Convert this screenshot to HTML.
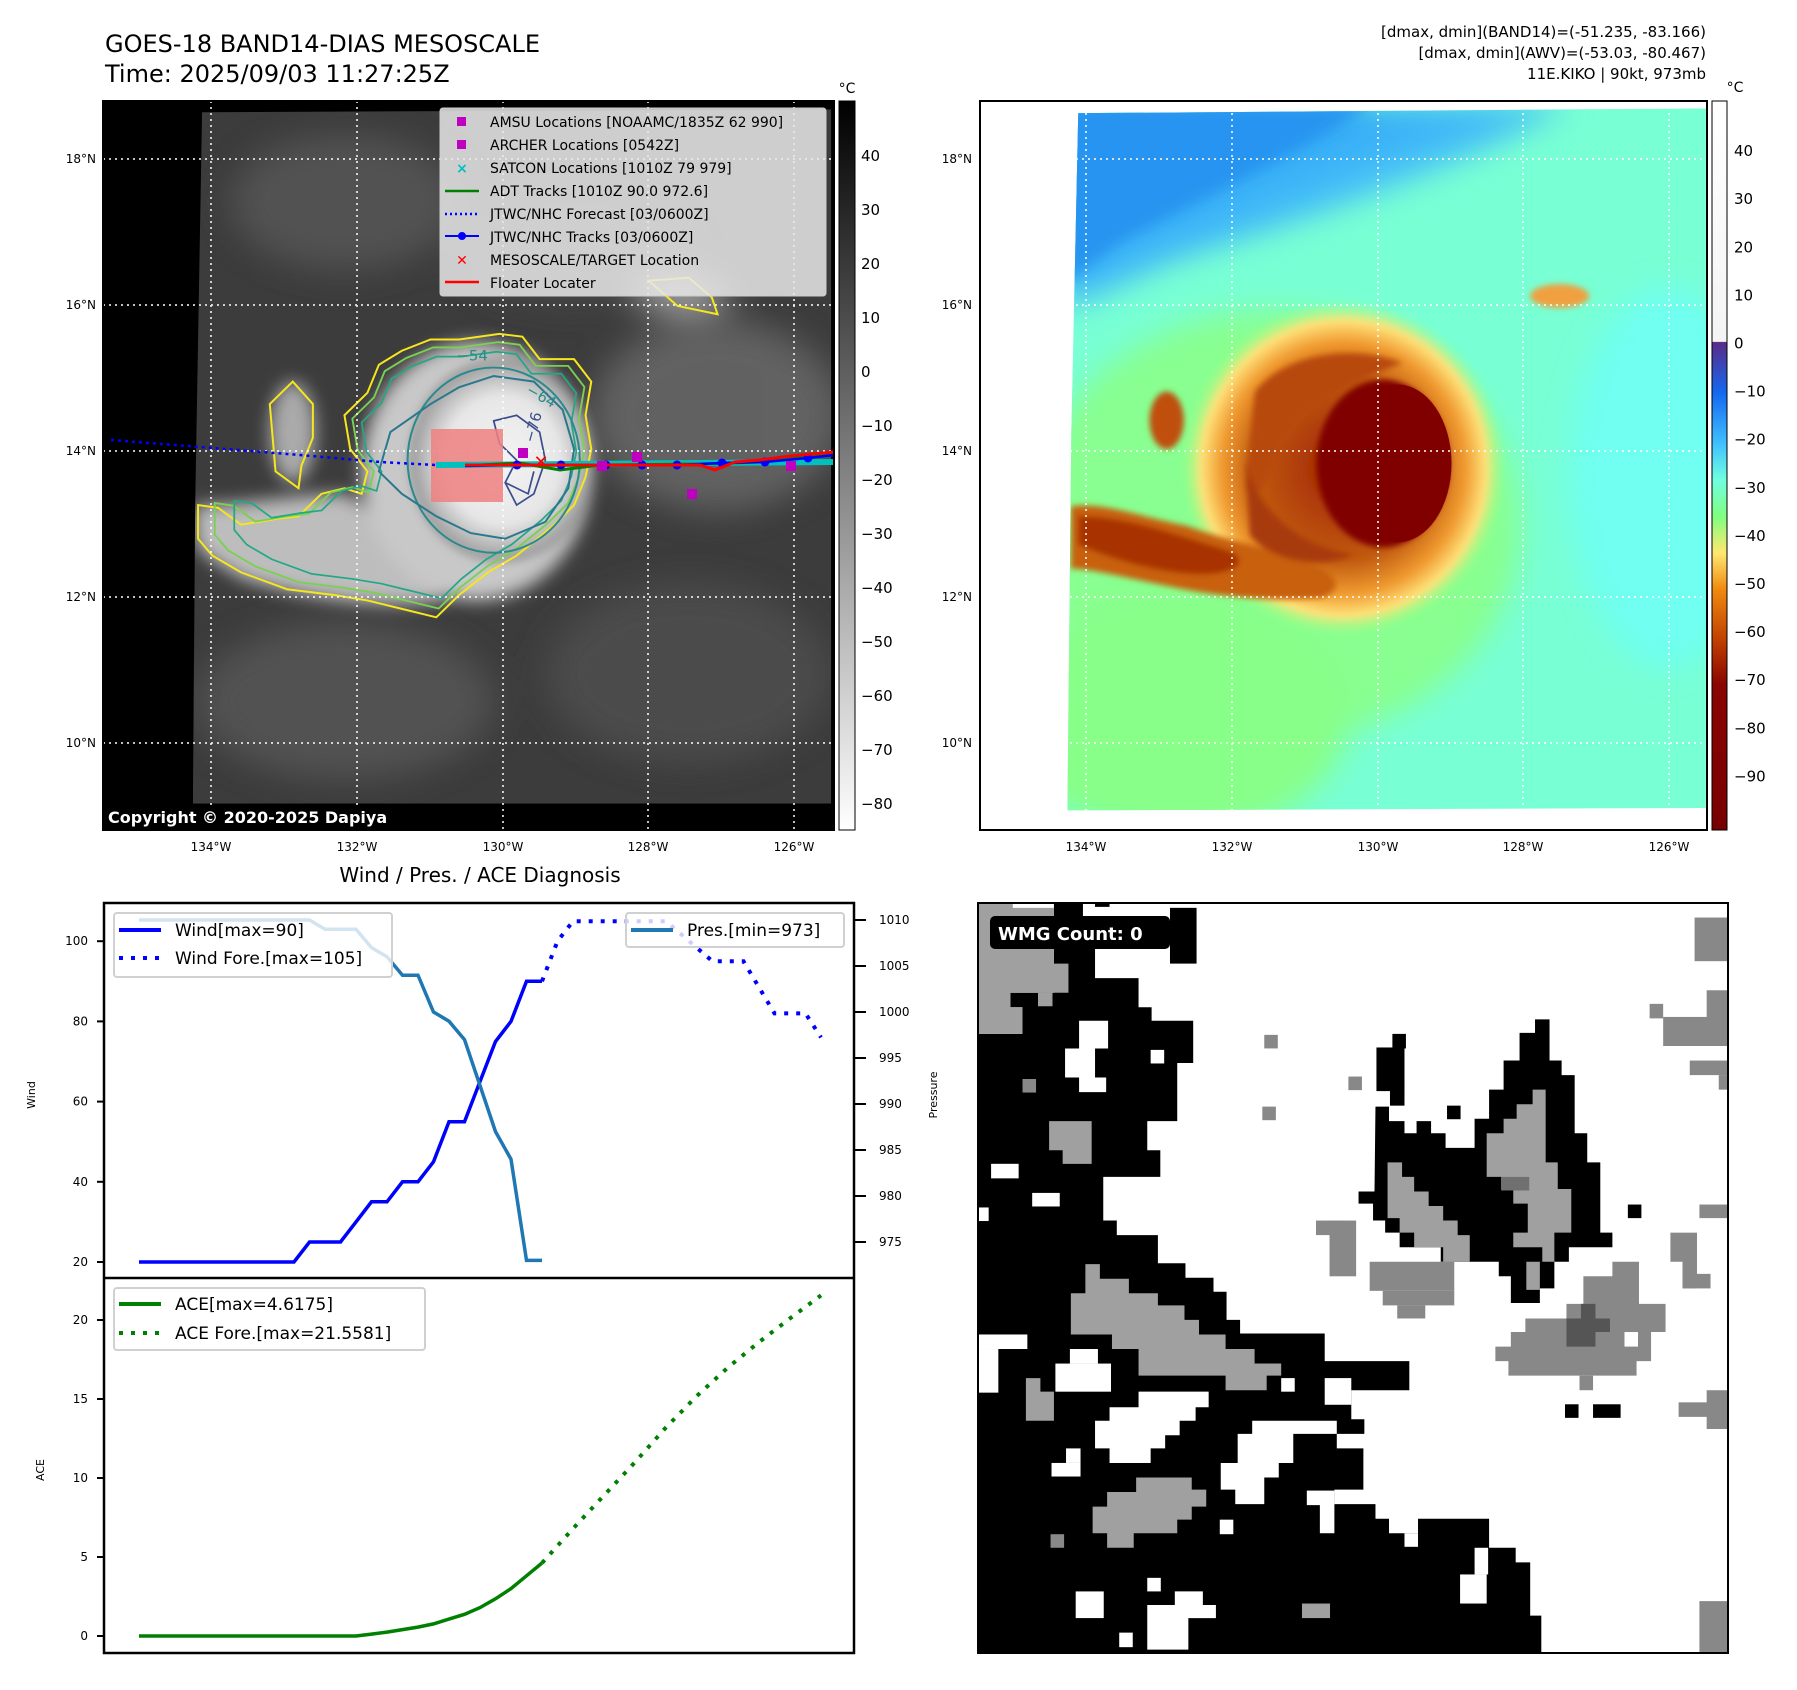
<!DOCTYPE html>
<html><head><meta charset="utf-8"><title>GOES-18 Band14 DIAS Mesoscale</title>
<style>
html,body{margin:0;padding:0;background:#fff;}
svg{display:block;font-family:"DejaVu Sans","Liberation Sans",sans-serif;}
</style></head>
<body>
<svg id="fig" width="1797" height="1690" viewBox="0 0 1797 1690" xmlns="http://www.w3.org/2000/svg">
<defs>
  <filter id="blur6" x="-20%" y="-20%" width="140%" height="140%"><feGaussianBlur stdDeviation="6"/></filter>
  <filter id="blur15" x="-30%" y="-30%" width="160%" height="160%"><feGaussianBlur stdDeviation="15"/></filter>
  <filter id="blur30" x="-50%" y="-50%" width="200%" height="200%"><feGaussianBlur stdDeviation="30"/></filter>
  <linearGradient id="cb1" x1="0" y1="0" x2="0" y2="1">
    <stop offset="0" stop-color="#000"/><stop offset="1" stop-color="#fff"/>
  </linearGradient>
  <linearGradient id="cb2" x1="0" y1="0" x2="0" y2="1">
    <stop offset="0" stop-color="#ffffff"/>
    <stop offset="0.330" stop-color="#f4f4f4"/>
    <stop offset="0.331" stop-color="#5a2a88"/>
    <stop offset="0.40" stop-color="#1468f0"/>
    <stop offset="0.47" stop-color="#40c0ff"/>
    <stop offset="0.52" stop-color="#70ffe0"/>
    <stop offset="0.57" stop-color="#80ff80"/>
    <stop offset="0.62" stop-color="#ffe870"/>
    <stop offset="0.67" stop-color="#f08a10"/>
    <stop offset="0.74" stop-color="#c04000"/>
    <stop offset="0.80" stop-color="#8a0500"/>
    <stop offset="1" stop-color="#780000"/>
  </linearGradient>
  <radialGradient id="stormGray" cx="0.5" cy="0.5" r="0.5">
    <stop offset="0" stop-color="#f4f4f4"/><stop offset="0.6" stop-color="#e6e6e6"/><stop offset="0.85" stop-color="#b0b0b0"/><stop offset="1" stop-color="#505050" stop-opacity="0"/>
  </radialGradient>
  <radialGradient id="stormCol" cx="0.5" cy="0.5" r="0.5">
    <stop offset="0" stop-color="#a02000"/><stop offset="0.55" stop-color="#c05a10"/><stop offset="0.75" stop-color="#f09a30"/><stop offset="0.88" stop-color="#ffe27a"/><stop offset="1" stop-color="#a0ff80" stop-opacity="0"/>
  </radialGradient>
  <linearGradient id="skyBlue" x1="0" y1="0" x2="1" y2="1">
    <stop offset="0" stop-color="#1a8cf0"/><stop offset="0.45" stop-color="#40b8f8"/><stop offset="0.7" stop-color="#70ffe8"/><stop offset="1" stop-color="#70ffd0" stop-opacity="0"/>
  </linearGradient>
</defs>

<!-- ===== Titles ===== -->
<text x="105" y="52" font-size="24" fill="#000">GOES-18 BAND14-DIAS MESOSCALE</text>
<text x="105" y="82" font-size="24" fill="#000">Time: 2025/09/03 11:27:25Z</text>
<g font-size="15" text-anchor="end" fill="#000">
  <text x="1706" y="37">[dmax, dmin](BAND14)=(-51.235, -83.166)</text>
  <text x="1706" y="58">[dmax, dmin](AWV)=(-53.03, -80.467)</text>
  <text x="1706" y="79">11E.KIKO | 90kt, 973mb</text>
</g>

<!-- ===== Map 1 (grayscale IR) ===== -->
<g>
  <rect x="103" y="101" width="731" height="729" fill="#000"/>
  <g transform="scale(0.57405,0.56117)">
    <clipPath id="m1clip"><polygon points="352,200 1448,195 1448,1432 336,1432 340,900"/></clipPath>
    <g clip-path="url(#m1clip)">
      <rect x="330" y="190" width="1130" height="1250" fill="#3c3c3c"/>
      <g filter="url(#blur30)" opacity="0.9">
        <ellipse cx="600" cy="360" rx="200" ry="120" fill="#555"/>
        <ellipse cx="1250" cy="740" rx="220" ry="170" fill="#666"/>
        <ellipse cx="1200" cy="1200" rx="250" ry="160" fill="#4e4e4e"/>
        <ellipse cx="600" cy="1250" rx="260" ry="140" fill="#555"/>
        <ellipse cx="1000" cy="450" rx="200" ry="90" fill="#4a4a4a"/>
        <ellipse cx="1190" cy="525" rx="80" ry="30" fill="#bbb"/>
      </g>
      <g filter="url(#blur15)">
        <path d="M340,900 C420,900 520,880 600,880 C650,900 700,1000 800,1060 C700,1100 500,1060 420,1030 C370,1000 340,980 340,960 Z" fill="#bdbdbd"/>
        <ellipse cx="510" cy="770" rx="40" ry="90" fill="#aaa"/>
        <ellipse cx="830" cy="840" rx="200" ry="230" fill="#c8c8c8"/>
      </g>
      <ellipse cx="875" cy="820" rx="170" ry="190" fill="url(#stormGray)" filter="url(#blur6)"/>
    </g>
    <g fill="none" stroke-width="3.5">
      <path d="M345,900 L380,905 L420,935 L480,925 L520,920 L560,880 L600,870 L630,880 L640,840 L610,800 L600,740 L640,700 L660,650 L700,625 L750,605 L800,605 L870,595 L910,600 L940,640 L1000,640 L1030,680 L1020,740 L1030,800 L1020,850 L1000,900 L960,940 L900,990 L850,1020 L800,1060 L760,1100 L700,1085 L640,1070 L580,1060 L500,1050 L420,1020 L370,990 L345,960 Z" stroke="#f5e61e"/>
      <path d="M470,720 L510,680 L545,720 L545,780 L525,830 L520,870 L480,840 L475,780 Z" stroke="#f5e61e"/>
      <path d="M1130,500 L1200,495 L1240,530 L1250,560 L1180,545 Z" stroke="#f5e61e"/>
      <g transform="translate(830,840) scale(0.94) translate(-830,-840)"><path d="M345,900 L380,905 L420,935 L480,925 L520,920 L560,880 L600,870 L630,880 L640,840 L610,800 L600,740 L640,700 L660,650 L700,625 L750,605 L800,605 L870,595 L910,600 L940,640 L1000,640 L1030,680 L1020,740 L1030,800 L1020,850 L1000,900 L960,940 L900,990 L850,1020 L800,1060 L760,1100 L700,1085 L640,1070 L580,1060 L500,1050 L420,1020 L370,990 L345,960 Z" stroke="#7ad151"/></g>
      <g transform="translate(830,840) scale(0.87) translate(-830,-840)"><path d="M345,900 L380,905 L420,935 L480,925 L520,920 L560,880 L600,870 L630,880 L640,840 L610,800 L600,740 L640,700 L660,650 L700,625 L750,605 L800,605 L870,595 L910,600 L940,640 L1000,640 L1030,680 L1020,740 L1030,800 L1020,850 L1000,900 L960,940 L900,990 L850,1020 L800,1060 L760,1100 L700,1085 L640,1070 L580,1060 L500,1050 L420,1020 L370,990 L345,960 Z" stroke="#22a884"/></g>
      <ellipse cx="860" cy="820" rx="150" ry="165" stroke="#2a8a8c"/>
      <path d="M680,770 L750,720 L800,690 L860,670 L930,680 L980,730 L1000,800 L990,870 L950,930 L880,960 L820,950 L760,920 L700,880 L660,840 Z" stroke="#2a788e"/>
      <path d="M860,750 L900,740 L940,770 L950,820 L930,880 L900,900 L880,860 L900,820 L870,790 Z" stroke="#3b4d8c" stroke-width="3"/>
      <path d="M880,860 L920,880 L930,840" stroke="#3b4d8c" stroke-width="3"/>
    </g>
    <g font-size="26" fill="#2a8a8c">
      <text x="795" y="642">−54</text>
      <text x="915" y="700" transform="rotate(30 915 700)">−64</text>
      <text x="930" y="790" transform="rotate(-75 930 790)" fill="#3b4d8c">−76</text>
    </g>
  </g>
  <g stroke="#fff" stroke-width="1.5" stroke-dasharray="2,4">
    <line x1="211" y1="101" x2="211" y2="830"/><line x1="357" y1="101" x2="357" y2="830"/>
    <line x1="503" y1="101" x2="503" y2="830"/><line x1="648" y1="101" x2="648" y2="830"/>
    <line x1="794" y1="101" x2="794" y2="830"/>
    <line x1="103" y1="159" x2="834" y2="159"/><line x1="103" y1="305" x2="834" y2="305"/>
    <line x1="103" y1="451" x2="834" y2="451"/><line x1="103" y1="597" x2="834" y2="597"/>
    <line x1="103" y1="743" x2="834" y2="743"/>
  </g>
  <rect x="431" y="429" width="72" height="73" fill="#f08080" opacity="0.85"/>
  <polyline points="111,440 200,447 300,455 380,462 436,465" fill="none" stroke="#0000ff" stroke-width="2.5" stroke-dasharray="3,4"/>
  <polyline points="436,465 834,462" fill="none" stroke="#00c0c0" stroke-width="6"/>
  <polyline points="480,465 520,463 560,470 600,465 700,464 760,462 790,458 834,455" fill="none" stroke="#008000" stroke-width="3"/>
  <polyline points="465,466 517,465 561,465 606,465 642,465 677,465 722,463 765,462 808,458 834,455" fill="none" stroke="#0000ff" stroke-width="2.5"/>
  <g fill="#0000ff">
    <circle cx="517" cy="465" r="4.5"/><circle cx="561" cy="465" r="4.5"/><circle cx="606" cy="465" r="4.5"/><circle cx="642" cy="465" r="4.5"/><circle cx="677" cy="465" r="4.5"/><circle cx="722" cy="463" r="4.5"/><circle cx="765" cy="462" r="4.5"/><circle cx="808" cy="458" r="4.5"/>
  </g>
  <polyline points="465,465 700,465 715,470 735,462 760,460 790,456 834,452" fill="none" stroke="#ff0000" stroke-width="3"/>
  <text x="541" y="468" font-size="18" font-weight="bold" fill="#ff0000" text-anchor="middle">✕</text>
  <g fill="#c000c0">
    <rect x="518" y="448" width="10" height="10"/><rect x="632" y="452" width="10" height="10"/><rect x="687" y="489" width="10" height="10"/><rect x="786" y="461" width="10" height="10"/><rect x="597" y="461" width="10" height="10"/>
  </g>
  <g>
    <rect x="440" y="108" width="386" height="188" rx="3" fill="#e8e8e8" fill-opacity="0.85" stroke="#ccc"/>
    <g font-size="14" fill="#000">
      <rect x="457" y="117" width="9" height="9" fill="#c000c0"/><text x="490" y="127">AMSU Locations [NOAAMC/1835Z 62 990]</text>
      <rect x="457" y="140" width="9" height="9" fill="#c000c0"/><text x="490" y="150">ARCHER Locations [0542Z]</text>
      <text x="462" y="173" text-anchor="middle" fill="#00c0c0" font-weight="bold">×</text><text x="490" y="173">SATCON Locations [1010Z 79 979]</text>
      <line x1="445" y1="191" x2="479" y2="191" stroke="#008000" stroke-width="2.5"/><text x="490" y="196">ADT Tracks [1010Z 90.0 972.6]</text>
      <line x1="445" y1="214" x2="479" y2="214" stroke="#0000ff" stroke-width="2.5" stroke-dasharray="2,3"/><text x="490" y="219">JTWC/NHC Forecast [03/0600Z]</text>
      <line x1="445" y1="236" x2="479" y2="236" stroke="#0000ff" stroke-width="2"/><circle cx="462" cy="236" r="4" fill="#0000ff"/><text x="490" y="242">JTWC/NHC Tracks [03/0600Z]</text>
      <text x="462" y="265" text-anchor="middle" fill="#ff0000" font-weight="bold">✕</text><text x="490" y="265">MESOSCALE/TARGET Location</text>
      <line x1="445" y1="282" x2="479" y2="282" stroke="#ff0000" stroke-width="2.5"/><text x="490" y="288">Floater Locater</text>
    </g>
  </g>
  <rect x="103" y="805" width="310" height="25" rx="3" fill="#000"/>
  <text x="108" y="823" font-size="16" font-weight="bold" fill="#fff">Copyright © 2020-2025 Dapiya</text>
  <rect x="103" y="101" width="731" height="729" fill="none" stroke="#000" stroke-width="2"/>
</g>
<g font-size="12" fill="#000" text-anchor="end">
  <text x="96" y="163">18°N</text><text x="96" y="309">16°N</text><text x="96" y="455">14°N</text><text x="96" y="601">12°N</text><text x="96" y="747">10°N</text>
</g>
<g font-size="12" fill="#000" text-anchor="middle">
  <text x="211" y="851">134°W</text><text x="357" y="851">132°W</text><text x="503" y="851">130°W</text><text x="648" y="851">128°W</text><text x="794" y="851">126°W</text>
</g>
<g>
  <rect x="839" y="101" width="16" height="729" fill="url(#cb1)" stroke="#000" stroke-width="1"/>
  <text x="847" y="93" font-size="14" text-anchor="middle">°C</text>
  <g id="cb1ticks" font-size="15" fill="#000"></g>
</g>

<!-- ===== Map 2 (colour AWV) ===== -->
<g>
  <rect x="980" y="101" width="727" height="729" fill="#fff"/>
  <g transform="translate(980,95) scale(0.49116,0.4785)">
    <clipPath id="m2clip"><polygon points="200,38 1478,28 1478,1490 178,1495 186,700"/></clipPath>
    <g clip-path="url(#m2clip)">
      <rect x="170" y="20" width="1320" height="1490" fill="#78ffd4"/>
      <g filter="url(#blur30)">
        <ellipse cx="600" cy="900" rx="500" ry="450" fill="#88ff90"/>
        <ellipse cx="400" cy="1300" rx="350" ry="250" fill="#88ff88"/>
        <ellipse cx="1400" cy="800" rx="200" ry="400" fill="#70fff0"/>
      </g>
      <path d="M170,20 L1200,20 C1000,150 700,250 450,330 C350,360 260,420 170,450 Z" fill="url(#skyBlue)" filter="url(#blur30)"/>
      <path d="M170,20 L800,20 C650,120 450,220 300,300 C250,330 200,380 170,400 Z" fill="#2894f0" filter="url(#blur15)"/>
      <ellipse cx="740" cy="780" rx="330" ry="350" fill="url(#stormCol)" filter="url(#blur6)"/>
      <g filter="url(#blur6)">
        <path d="M185,860 C250,850 320,880 420,900 C500,930 560,940 620,960 C700,980 760,1020 700,1050 C600,1060 500,1050 400,1030 C300,1010 230,990 185,990 Z" fill="#c86010"/>
        <path d="M200,880 C300,880 400,920 500,950 C560,970 520,1010 420,1000 C320,990 250,960 200,940 Z" fill="#a83000"/>
        <ellipse cx="380" cy="680" rx="35" ry="60" fill="#c05010"/>
        <ellipse cx="1180" cy="420" rx="60" ry="25" fill="#f0a040"/>
        <path d="M560,620 C620,540 760,520 860,560 C760,600 660,640 600,760 C580,820 560,860 540,820 Z" fill="#b84a10"/>
        <path d="M540,760 C560,860 640,940 760,960 C700,990 600,980 550,920 Z" fill="#a83a08"/>
      </g>
      <ellipse cx="820" cy="770" rx="135" ry="175" fill="#800000" filter="url(#blur6)"/>
      <ellipse cx="850" cy="770" rx="110" ry="165" fill="#800000"/>
    </g>
  </g>
  <g stroke="#fff" stroke-width="1.5" stroke-dasharray="2,4">
    <line x1="1086" y1="101" x2="1086" y2="830"/><line x1="1232" y1="101" x2="1232" y2="830"/>
    <line x1="1378" y1="101" x2="1378" y2="830"/><line x1="1523" y1="101" x2="1523" y2="830"/>
    <line x1="1669" y1="101" x2="1669" y2="830"/>
    <line x1="980" y1="159" x2="1707" y2="159"/><line x1="980" y1="305" x2="1707" y2="305"/>
    <line x1="980" y1="451" x2="1707" y2="451"/><line x1="980" y1="597" x2="1707" y2="597"/>
    <line x1="980" y1="743" x2="1707" y2="743"/>
  </g>
  <rect x="980" y="101" width="727" height="729" fill="none" stroke="#000" stroke-width="2"/>
</g>
<g font-size="12" fill="#000" text-anchor="end">
  <text x="972" y="163">18°N</text><text x="972" y="309">16°N</text><text x="972" y="455">14°N</text><text x="972" y="601">12°N</text><text x="972" y="747">10°N</text>
</g>
<g font-size="12" fill="#000" text-anchor="middle">
  <text x="1086" y="851">134°W</text><text x="1232" y="851">132°W</text><text x="1378" y="851">130°W</text><text x="1523" y="851">128°W</text><text x="1669" y="851">126°W</text>
</g>
<g>
  <rect x="1712" y="101" width="15" height="729" fill="url(#cb2)" stroke="#000" stroke-width="1"/>
  <text x="1735" y="92" font-size="14" text-anchor="middle">°C</text>
  <g id="cb2ticks" font-size="15" fill="#000"></g>
</g>

<!-- ===== Wind / Pres / ACE chart ===== -->
<text x="480" y="882" font-size="20" text-anchor="middle">Wind / Pres. / ACE Diagnosis</text>
<g id="chart">
  <rect x="104" y="903" width="750" height="750" fill="#fff"/>
</g>
<text transform="translate(35,1095) rotate(-90)" font-size="11" text-anchor="middle">Wind</text>
<text transform="translate(937,1095) rotate(-90)" font-size="11" text-anchor="middle">Pressure</text>
<text transform="translate(44,1470) rotate(-90)" font-size="11" text-anchor="middle">ACE</text>

<!-- ===== WMG panel ===== -->
<g>
  <rect x="978" y="903" width="750" height="750" fill="#fff"/>
  <g transform="translate(979,903) scale(0.4835,0.4848)">
    <g fill="#000">
      <polygon points="0,270 90,270 90,215 65,215 65,185 155,185 155,95 240,95 240,155 330,155 330,215 357,215 357,243 443,243 443,330 410,330 410,450 348,450 348,510 375,510 375,565 257,565 257,655 285,655 285,685 370,685 370,743 427,743 427,773 485,773 485,802 512,802 512,860 540,860 540,888 715,888 715,945 890,945 890,1005 770,1005 770,1065 797,1065 797,1095 740,1095 740,1125 795,1125 795,1210 735,1210 735,1240 820,1240 820,1270 848,1270 848,1300 908,1300 908,1270 1055,1270 1055,1330 1110,1330 1110,1360 1140,1360 1140,1470 1163,1470 1163,1547 0,1547"/>
      <rect x="155" y="0" width="60" height="95"/><rect x="395" y="10" width="55" height="115"/><rect x="240" y="0" width="30" height="8"/>
      <polygon points="820,420 848,420 848,450 880,450 880,475 905,475 905,450 935,450 935,475 965,475 965,505 1025,505 1025,445 1055,445 1055,385 1085,385 1085,325 1118,325 1118,268 1150,268 1150,240 1180,240 1180,325 1205,325 1205,355 1232,355 1232,475 1258,475 1258,535 1285,535 1285,680 1310,680 1310,710 1220,710 1220,740 1190,740 1190,795 1160,795 1160,825 1100,825 1100,770 1075,770 1075,740 955,740 955,710 870,710 870,680 840,680 840,655 815,655 815,620 785,620 785,595 818,595"/>
      <rect x="822" y="298" width="58" height="90"/><rect x="855" y="270" width="28" height="30"/><rect x="850" y="360" width="30" height="58"/>
      <rect x="968" y="418" width="28" height="28"/><rect x="1342" y="622" width="28" height="28"/><rect x="1212" y="1034" width="28" height="28"/><rect x="1270" y="1034" width="57" height="28"/>
    </g>
    <g fill="#fff">
      <polygon points="178,300 207,300 207,243 267,243 267,300 240,300 240,360 263,360 263,390 207,390 207,360 178,360"/>
      <rect x="355" y="303" width="28" height="28"/><rect x="25" y="538" width="57" height="30"/><rect x="110" y="598" width="57" height="28"/><rect x="0" y="628" width="20" height="28"/>
      <rect x="0" y="890" width="100" height="30"/><rect x="0" y="920" width="40" height="90"/><rect x="158" y="950" width="115" height="58"/><rect x="188" y="920" width="58" height="30"/>
      <polygon points="240,1068 270,1068 270,1040 330,1040 330,1008 475,1008 475,1040 448,1040 448,1068 415,1068 415,1098 385,1098 385,1125 355,1125 355,1155 270,1155 270,1125 240,1125"/>
      <polygon points="565,1068 740,1068 740,1095 650,1095 650,1155 620,1155 620,1185 590,1185 590,1240 530,1240 530,1210 500,1210 500,1155 535,1155 535,1095 565,1095"/>
      <rect x="678" y="1212" width="57" height="30"/><rect x="705" y="1240" width="30" height="60"/>
      <rect x="715" y="980" width="55" height="55"/><rect x="625" y="980" width="28" height="28"/><rect x="150" y="1155" width="60" height="28"/><rect x="180" y="1125" width="30" height="30"/>
      <rect x="200" y="1420" width="58" height="55"/><polygon points="348,1448 405,1448 405,1420 463,1420 463,1448 490,1448 490,1475 433,1475 433,1540 348,1540"/>
      <rect x="290" y="1505" width="28" height="30"/><rect x="498" y="1272" width="28" height="30"/><rect x="880" y="1300" width="28" height="28"/><rect x="995" y="1385" width="55" height="60"/><rect x="1025" y="1330" width="28" height="55"/><rect x="348" y="1392" width="28" height="28"/>
    </g>
    <g fill="#a0a0a0">
      <polygon points="0,0 70,0 70,10 155,10 155,125 185,125 185,185 65,185 65,215 90,215 90,270 0,270"/>
      <rect x="122" y="185" width="30" height="28"/>
      <polygon points="145,450 233,450 233,538 173,538 173,510 145,510"/>
      <polygon points="190,805 220,805 220,745 250,745 250,775 310,775 310,805 370,805 370,830 425,830 425,860 455,860 455,890 510,890 510,920 570,920 570,950 625,950 625,975 595,975 595,1005 510,1005 510,975 330,975 330,920 275,920 275,890 190,890"/>
      <polygon points="97,980 127,980 127,1008 155,1008 155,1068 97,1068"/>
      <polygon points="325,1185 440,1185 440,1210 470,1210 470,1245 440,1245 440,1272 410,1272 410,1300 320,1300 320,1330 265,1330 265,1300 235,1300 235,1245 265,1245 265,1215 325,1215"/>
      <rect x="668" y="1445" width="58" height="30"/>
      <polygon points="845,535 875,535 875,565 900,565 900,595 930,595 930,625 960,625 960,655 990,655 990,685 1015,685 1015,740 960,740 960,710 900,710 900,680 870,680 870,650 845,650"/>
      <polygon points="1050,475 1085,475 1085,445 1112,445 1112,415 1145,415 1145,385 1172,385 1172,535 1197,535 1197,590 1225,590 1225,680 1190,680 1190,740 1165,740 1165,710 1105,710 1105,680 1135,680 1135,620 1105,620 1105,590 1080,590 1080,565 1050,565"/>
      <rect x="1132" y="740" width="28" height="58"/>
    </g>
    <g fill="#888">
      <rect x="1480" y="30" width="69" height="90"/><rect x="1415" y="235" width="134" height="60"/><rect x="1505" y="180" width="44" height="60"/><rect x="1470" y="325" width="79" height="30"/><rect x="1387" y="208" width="28" height="30"/><rect x="1530" y="355" width="19" height="30"/>
      <rect x="808" y="740" width="175" height="60"/><rect x="835" y="800" width="148" height="30"/><rect x="865" y="830" width="58" height="27"/>
      <polygon points="1100,885 1130,885 1130,857 1215,857 1215,827 1250,827 1250,770 1310,770 1310,740 1365,740 1365,827 1420,827 1420,885 1390,885 1390,945 1360,945 1360,975 1095,975 1095,945 1068,945 1068,915 1100,915"/>
      <rect x="725" y="655" width="55" height="115"/><rect x="697" y="655" width="55" height="30"/>
      <rect x="1430" y="680" width="55" height="60"/><rect x="1455" y="735" width="30" height="60"/><rect x="1455" y="765" width="58" height="30"/>
      <rect x="1447" y="1030" width="102" height="30"/><rect x="1505" y="1005" width="44" height="80"/>
      <rect x="1490" y="1440" width="59" height="107"/>
      <rect x="590" y="272" width="28" height="28"/><rect x="764" y="358" width="28" height="28"/><rect x="586" y="420" width="28" height="28"/><rect x="90" y="363" width="28" height="28"/><rect x="148" y="1302" width="28" height="28"/><rect x="1490" y="622" width="59" height="28"/><rect x="1242" y="975" width="28" height="30"/>
      <rect x="1080" y="565" width="58" height="28" fill="#707070"/>
    </g>
    <g fill="#fff"><rect x="1335" y="885" width="28" height="30"/></g>
    <polygon points="1245,827 1275,827 1275,857 1305,857 1305,885 1275,885 1275,915 1215,915 1215,857 1245,857" fill="#555"/>
  </g>
  <rect x="990" y="916" width="180" height="33" rx="5" fill="#000"/>
  <text x="998" y="940" font-size="18" font-weight="bold" fill="#fff">WMG Count: 0</text>
  <rect x="978" y="903" width="750" height="750" fill="none" stroke="#000" stroke-width="2"/>
</g>

<script>
// ---- Chart data (6-hourly index) ----
const obsIdx   = [0,1,2,3,4,5,6,7,8,9,10,11,12,13,14,15,16,17,18,19,20,21,22,23,24,25,26];
const windObs  = [20,20,20,20,20,20,20,20,20,20,20,25,25,25,30,35,35,40,40,45,55,55,65,75,80,90,90];
const presObs  = [1010,1010,1010,1010,1010,1010,1010,1010,1010,1010,1010,1010,1009,1009,1009,1007,1006,1004,1004,1000,999,997,992,987,984,973,973];
const aceObs   = [0,0,0,0,0,0,0,0,0,0,0,0,0,0,0,0.1225,0.245,0.405,0.565,0.7675,1.07,1.3725,1.795,2.3575,2.9975,3.8075,4.6175];
const fcIdx    = [26,27,28,30,32,34,37,39,41,43,44];
const windFc   = [90,100,105,105,105,105,95,95,82,82,76];
const aceFcIdx = [26,28,30,32,34,36,38,40,42,44];
const aceFc    = [4.6175,6.8,8.9,11.0,13.2,15.2,17.0,18.6,20.1,21.5581];
const windTicks = [20,40,60,80,100];
const presTicks = [975,980,985,990,995,1000,1005,1010];
const aceTicks  = [0,5,10,15,20];
const cb1Ticks = [40,30,20,10,0,-10,-20,-30,-40,-50,-60,-70,-80];
const cb2Ticks = [40,30,20,10,0,-10,-20,-30,-40,-50,-60,-70,-80,-90];

const NS = 'http://www.w3.org/2000/svg';
function xI(i){ return 139 + 15.5*i; }
function yWind(v){ return 1262 - (v-20)*4.01; }
function yPres(p){ return 1242 - (p-975)*9.2; }
function yAce(a){ return 1636 - a*15.8; }
function yCb1(v){ return 156 + (40-v)*5.4; }
function yCb2(v){ return 343.5 - v*4.81; }
function mk(tag, attrs, parent){
  const e = document.createElementNS(NS, tag);
  for (const k in attrs) e.setAttribute(k, attrs[k]);
  parent.appendChild(e); return e;
}
function pts(idx, vals, fy){ return idx.map((i,k)=>xI(i).toFixed(1)+','+fy(vals[k]).toFixed(1)).join(' '); }
const fmt = v => (v<0 ? '\u2212'+Math.abs(v) : ''+v);

const cb1 = document.getElementById('cb1ticks');
cb1Ticks.forEach(v=>{
  const t = mk('text',{x:861,y:yCb1(v)+5},cb1); t.textContent = fmt(v);
  
  
});
const cb2 = document.getElementById('cb2ticks');
cb2Ticks.forEach(v=>{
  const t = mk('text',{x:1734,y:yCb2(v)+5},cb2); t.textContent = fmt(v);
  
  
});

const chart = document.getElementById('chart');
windTicks.forEach(v=>{
  mk('line',{x1:97,x2:104,y1:yWind(v),y2:yWind(v),stroke:'#000','stroke-width':2},chart);
  const t = mk('text',{x:88,y:yWind(v)+4,'font-size':12,'text-anchor':'end'},chart); t.textContent=v;
  
  
});
presTicks.forEach(v=>{
  mk('line',{x1:854,x2:866,y1:yPres(v),y2:yPres(v),stroke:'#000','stroke-width':2},chart);
  const t = mk('text',{x:879,y:yPres(v)+4,'font-size':12},chart); t.textContent=v;
  
  
});
aceTicks.forEach(v=>{
  mk('line',{x1:97,x2:104,y1:yAce(v),y2:yAce(v),stroke:'#000','stroke-width':2},chart);
  const t = mk('text',{x:88,y:yAce(v)+4,'font-size':12,'text-anchor':'end'},chart); t.textContent=v;
  
  
});
const lw = mk('polyline',{points:pts(obsIdx,windObs,yWind),fill:'none',stroke:'#0000ff','stroke-width':3.5},chart);


const lwf = mk('polyline',{points:pts(fcIdx,windFc,yWind),fill:'none',stroke:'#0000ff','stroke-width':4,'stroke-dasharray':'4,8'},chart);


const lp = mk('polyline',{points:pts(obsIdx,presObs,yPres),fill:'none',stroke:'#1f77b4','stroke-width':3.5},chart);


const la = mk('polyline',{points:pts(obsIdx,aceObs,yAce),fill:'none',stroke:'#008000','stroke-width':3.5},chart);


const laf = mk('polyline',{points:pts(aceFcIdx,aceFc,yAce),fill:'none',stroke:'#008000','stroke-width':4,'stroke-dasharray':'4,8'},chart);



function legendBox(x,y,w,h,name){
  const r = mk('rect',{x:x,y:y,width:w,height:h,rx:3,fill:'#fff','fill-opacity':0.8,stroke:'#d0d0d0','stroke-width':2},chart);
  
  
}
function legendItem(y,x0,color,dash,label){
  mk('line',{x1:x0,x2:x0+42,y1:y,y2:y,stroke:color,'stroke-width':4,'stroke-dasharray':dash},chart);
  const t = mk('text',{x:x0+56,y:y+6,'font-size':17},chart); t.textContent = label;
  
  
}
legendBox(114,913,278,64,'wind-legend');
legendItem(930,119,'#0000ff','none','Wind[max=90]');
legendItem(958,119,'#0000ff','4,8','Wind Fore.[max=105]');
legendBox(626,913,218,34,'pressure-legend');
legendItem(930,631,'#1f77b4','none','Pres.[min=973]');
legendBox(114,1288,311,62,'ace-legend');
legendItem(1304,119,'#008000','none','ACE[max=4.6175]');
legendItem(1333,119,'#008000','4,8','ACE Fore.[max=21.5581]');

mk('rect',{x:104,y:903,width:750,height:750,fill:'none',stroke:'#000','stroke-width':2.5},chart);
mk('line',{x1:104,x2:854,y1:1278,y2:1278,stroke:'#000','stroke-width':2.5},chart);
</script>
</svg>
</body></html>
